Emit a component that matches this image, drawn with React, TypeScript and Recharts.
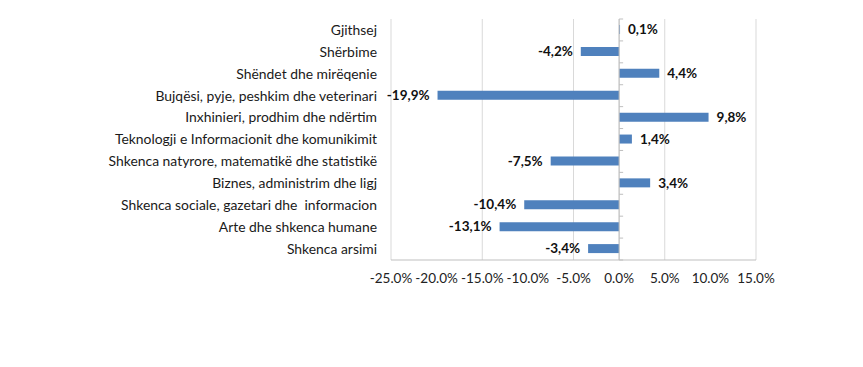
import { BarChart, Bar, XAxis, YAxis, CartesianGrid, ReferenceLine, LabelList } from 'recharts';

const categories = [
  'Gjithsej',
  'Shërbime',
  'Shëndet dhe mirëqenie',
  'Bujqësi, pyje, peshkim dhe veterinari',
  'Inxhinieri, prodhim dhe ndërtim',
  'Teknologji e Informacionit dhe komunikimit',
  'Shkenca natyrore, matematikë dhe statistikë',
  'Biznes, administrim dhe ligj',
  'Shkenca sociale, gazetari dhe  informacion',
  'Arte dhe shkenca humane',
  'Shkenca arsimi',
];

const changes = [0.1, -4.2, 4.4, -19.9, 9.8, 1.4, -7.5, 3.4, -10.4, -13.1, -3.4];

const xTicks = [-25, -20, -15, -10, -5, 0, 5, 10, 15];

const data = categories.map((name, i) => ({ name, value: changes[i] }));

const FONT = 'Lato, "Open Sans", sans-serif';

const fmtLabel = (v: number) => v.toFixed(1).replace('.', ',') + '%';

const ValueLabel = (props: any) => {
  const { x, y, width, height, value } = props;
  const end = x + width;
  const neg = value < 0;
  return (
    <text
      x={neg ? end - 8 : end + 8}
      y={y + height / 2}
      dy="0.35em"
      textAnchor={neg ? 'end' : 'start'}
      fontFamily={FONT}
      fontSize={13.5}
      fontWeight={700}
      fill="#111"
    >
      {fmtLabel(value)}
    </text>
  );
};

// plain text tick so the double space in a label is kept
const CategoryTick = (props: any) => {
  const { x, y, payload } = props;
  return (
    <text
      x={x}
      y={y}
      dy="0.35em"
      textAnchor="end"
      fontFamily={FONT}
      fontSize={13.9}
      fill="#1a1a1a"
      xmlSpace="preserve"
      style={{ whiteSpace: 'pre' }}
    >
      {payload.value}
    </text>
  );
};

// zero axis line with small tick marks between categories
const ZeroAxis = (props: any) => {
  const { x1, y1, y2 } = props;
  const n = categories.length;
  const step = (y2 - y1) / n;
  const marks = [];
  for (let i = 0; i <= n; i++) {
    const yy = y1 + step * i;
    marks.push(<line key={i} x1={x1} x2={x1 + 4} y1={yy} y2={yy} stroke="#BFBFBF" />);
  }
  return (
    <g>
      <line x1={x1} x2={x1} y1={y1} y2={y2} stroke="#BFBFBF" />
      {marks}
    </g>
  );
};

export default function App() {
  return (
    <div style={{ position: 'absolute', left: 0, top: 0, background: '#fff' }}>
      <BarChart
        width={863}
        height={367}
        data={data}
        layout="vertical"
        margin={{ top: 19, right: 107, bottom: 77, left: 0 }}
        barCategoryGap={0}
      >
        <CartesianGrid horizontal={false} stroke="#D9D9D9" />
        <XAxis
          type="number"
          domain={[-25, 15]}
          ticks={xTicks}
          allowDataOverflow
          tickFormatter={(v: number) => v.toFixed(1) + '%'}
          axisLine={{ stroke: '#BFBFBF' }}
          tickLine={false}
          tickSize={0}
          tickMargin={13}
          height={30}
          tick={{ fontFamily: FONT, fontSize: 13.5, fill: '#222' }}
        />
        <YAxis
          type="category"
          dataKey="name"
          width={391}
          interval={0}
          axisLine={false}
          tickLine={false}
          tickSize={0}
          tickMargin={14}
          tick={CategoryTick}
        />
        <ReferenceLine x={0} shape={ZeroAxis} />
        <Bar dataKey="value" fill="#4F81BD" barSize={9} isAnimationActive={false}>
          <LabelList dataKey="value" content={ValueLabel} />
        </Bar>
      </BarChart>
    </div>
  );
}
